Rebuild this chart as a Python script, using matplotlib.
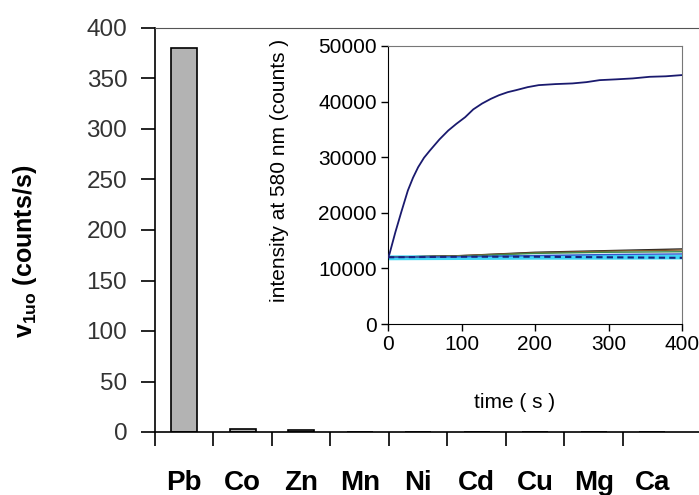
import matplotlib
matplotlib.use("Agg")
import matplotlib.pyplot as plt

# ---- data ----
metals = ["Pb", "Co", "Zn", "Mn", "Ni", "Cd", "Cu", "Mg", "Ca"]
rates = [380, 3, 2, 0, 0, 0, 0, 0, 0]
main_yticks = [0, 50, 100, 150, 200, 250, 300, 350, 400]

pb_time = [0, 2, 10, 18, 27, 34, 41, 49, 57, 70, 82, 93, 105, 116, 128, 140, 151, 163,
           174, 190, 205, 228, 251, 270, 288, 310, 333, 356, 378, 400]
pb_int = [12000, 12580, 16500, 20100, 24000, 26300, 28200, 29900, 31200, 33200, 34800,
          36000, 37200, 38600, 39650, 40500, 41150, 41700, 42050, 42600, 42960, 43150,
          43270, 43500, 43860, 44000, 44170, 44460, 44550, 44770]

ctrl_time = [0, 100, 200, 300, 400]
ctrl_cyan = [11900, 11950, 12000, 12000, 12050]
ctrl_black = [12000, 12300, 12900, 13200, 13500]
ctrl_brown = [12000, 12300, 12800, 13100, 13300]
ctrl_green = [12000, 12200, 12700, 12900, 13000]
ctrl_blue = [12000, 12100, 12300, 12500, 12600]
ctrl_navy = [12000, 12100, 12100, 12000, 11900]

inset_xticks = [0, 100, 200, 300, 400]
inset_yticks = [0, 10000, 20000, 30000, 40000, 50000]

plt.rcParams['font.family'] = ['Liberation Sans', 'DejaVu Sans']
plt.rcParams['mathtext.fontset'] = 'custom'
plt.rcParams['mathtext.rm'] = 'Liberation Sans'
plt.rcParams['mathtext.it'] = 'Liberation Sans:italic'
plt.rcParams['mathtext.bf'] = 'Liberation Sans:bold'

W, H = 699, 495
fig = plt.figure(figsize=(W / 100, H / 100), dpi=100)

def rect(x0, y0, x1, y1):
    return [x0 / W, 1 - y1 / H, (x1 - x0) / W, (y1 - y0) / H]

# ---- main axes ----
ax = fig.add_axes(rect(155, 28, 699, 432))
x = list(range(len(metals)))
ax.bar(x, rates, width=0.45, color="#b3b3b3", edgecolor="black", linewidth=1.2)
ax.set_xlim(-0.5, 8.8)
ax.set_ylim(0, 400)
ax.set_yticks(main_yticks)
ax.set_yticklabels([str(v) for v in main_yticks], fontsize=17.5, color="#333333")
ax.set_xticks([i - 0.5 for i in range(9)])
ax.set_xticklabels([])
ax.tick_params(axis="y", direction="out", length=10, width=1.2, pad=10)
ax.tick_params(axis="x", direction="out", length=10, width=1.2)
for i, m in enumerate(metals):
    ax.text(i, -50, m, ha="center", va="center", fontsize=20, fontweight="bold")
ax.spines["right"].set_visible(False)
ax.spines["top"].set_color("#555555")
ax.spines["left"].set_linewidth(1.2)
ax.spines["bottom"].set_linewidth(1.2)
fig.text(25 / W, 1 - 251 / H, r"$\mathbf{v_{1uo}}$ (counts/s)", rotation=90,
         ha="center", va="center", fontsize=18, fontweight="bold")

# ---- inset ----
ins = fig.add_axes(rect(388, 46, 682, 324))
ins.plot(ctrl_time, ctrl_cyan, color="#3fd6f5", lw=3.5, zorder=2)
ins.plot(ctrl_time, ctrl_black, color="#222222", lw=1.0, zorder=3)
ins.plot(ctrl_time, ctrl_brown, color="#8a5a2b", lw=1.0, zorder=3)
ins.plot(ctrl_time, ctrl_green, color="#3a8a4a", lw=1.0, zorder=3)
ins.plot(ctrl_time, ctrl_blue, color="#3355cc", lw=1.0, zorder=3)
ins.plot(ctrl_time, ctrl_navy, color="#1a237e", lw=1.5, ls=(0, (3, 2)), zorder=4)
ins.plot(pb_time, pb_int, color="#1a1a6e", lw=1.3, zorder=5)
ins.set_xlim(0, 400)
ins.set_ylim(0, 50000)
ins.set_xticks(inset_xticks)
ins.set_xticklabels([str(v) for v in inset_xticks], fontsize=15)
ins.set_yticks(inset_yticks)
ins.set_yticklabels([str(v) for v in inset_yticks], fontsize=15)
ins.tick_params(direction="out", length=5, width=1.0, pad=3)
ins.spines["top"].set_color("#777777")
ins.spines["right"].set_color("#777777")
ins.set_xlabel("time ( s )", fontsize=15)
ins.xaxis.set_label_coords((515 - 388) / 294, -(393 - 324) / 278, transform=ins.transAxes)
ins.set_ylabel("intensity at 580 nm (counts )", fontsize=15)
ins.yaxis.set_label_coords(-(388 - 289) / 294, (324 - 170) / 278, transform=ins.transAxes)

fig.savefig("out.png", dpi=100, facecolor="white")
